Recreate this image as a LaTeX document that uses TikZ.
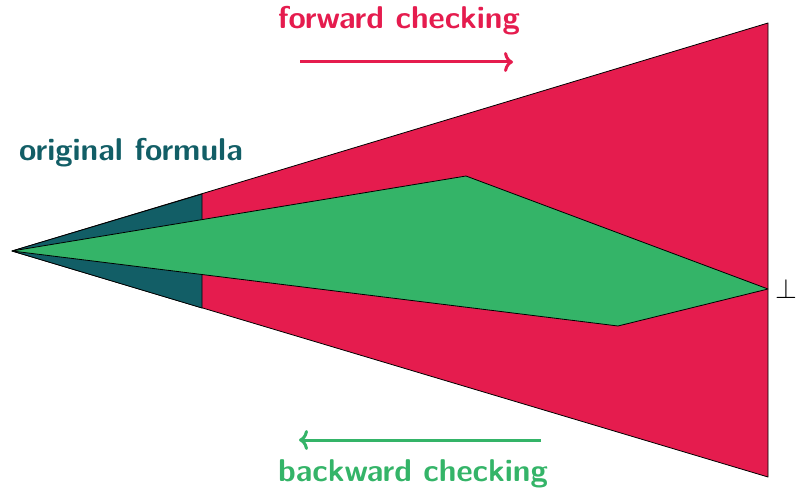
\documentclass[tikz,border=0pt]{standalone}
\usetikzlibrary{arrows.meta}
\definecolor{cred}{HTML}{E51C4E}
\definecolor{cteal}{HTML}{125E66}
\definecolor{cgreen}{HTML}{34B468}
\tikzset{
  region/.style={draw=black, line width=0.8pt, line join=round},
  label/.style={font=\fontsize{31.5}{36}\selectfont\sffamily\bfseries, inner sep=0pt},
  dirarrow/.style={line width=3pt, -{To[length=9pt,width=20pt]}}
}
\begin{document}
\begin{tikzpicture}[x=1pt,y=-1pt]
\useasboundingbox (0,0) rectangle (797,492);
\coordinate (apex) at (12,251);
\coordinate (rt) at (768,23);
\coordinate (rb) at (768,477);
\coordinate (tt) at (202,194);
\coordinate (tb) at (202,308);
\coordinate (gt) at (466,176);
\coordinate (gr) at (768,289);
\coordinate (gb) at (618,326);
\fill[cred, region] (apex) -- (rt) -- (rb) -- cycle;
\fill[cteal, region] (apex) -- (tt) -- (tb) -- cycle;
\fill[cgreen, region] (apex) -- (gt) -- (gr) -- (gb) -- cycle;
\node[inner sep=0pt, scale=2.8] (bot) at (786,289) {$\bot$};
\node[label, text=cred] (fwd) at (399,21) {forward checking};
\coordinate (fa) at (300,62);
\coordinate (fb) at (513,62);
\draw[dirarrow, cred] (fa) -- (fb);
\node[label, text=cgreen] (bwd) at (413,474) {backward checking};
\coordinate (ba) at (541,440);
\coordinate (bb) at (299,440);
\draw[dirarrow, cgreen] (ba) -- (bb);
\node[label, text=cteal] (orig) at (131,153) {original formula};
\end{tikzpicture}
\end{document}
